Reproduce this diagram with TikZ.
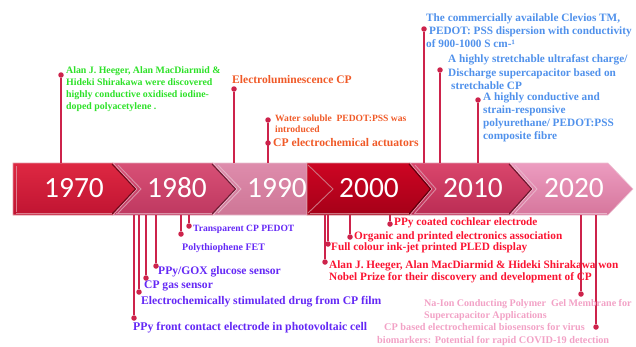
\documentclass[tikz,border=0pt]{standalone}
\usepackage{fontspec}
\setmainfont{Liberation Serif}
\newfontfamily\yearfont{Carlito}
\definecolor{lc}{RGB}{205,35,75}
\definecolor{cgreen}{RGB}{45,225,40}
\definecolor{corange}{RGB}{240,90,40}
\definecolor{cblue}{RGB}{80,145,235}
\definecolor{cviolet}{RGB}{100,40,245}
\definecolor{cred}{RGB}{250,20,50}
\definecolor{cpink}{RGB}{242,162,198}
\definecolor{s1t}{RGB}{222,40,66}\definecolor{s1b}{RGB}{192,20,50}
\definecolor{s2t}{RGB}{216,80,118}\definecolor{s2b}{RGB}{190,56,96}
\definecolor{s3t}{RGB}{222,140,172}\definecolor{s3b}{RGB}{206,118,150}
\definecolor{s4t}{RGB}{205,5,35}\definecolor{s4b}{RGB}{165,0,24}
\definecolor{s5t}{RGB}{218,70,108}\definecolor{s5b}{RGB}{186,44,84}
\definecolor{s6t}{RGB}{236,156,192}\definecolor{s6b}{RGB}{214,118,156}
\begin{document}
\begin{tikzpicture}[x=1bp,y=-1bp,
  conn/.style={draw=lc, line width=1.5bp},
  dot/.style={circle, fill=lc, inner sep=0, minimum size=5.5bp},
  lab/.style={inner sep=0, anchor=west, align=left},
  seg/.style={draw=white!55!#1, line width=0.6bp},
  shadow/.style={draw=black!45!#1, line width=1bp},
  bevel/.style={draw=white!45!#1, line width=0.9bp},
  yr/.style={text=white, font=\yearfont\fontsize{29.5}{31}\selectfont, inner sep=0}]
\useasboundingbox (0,0) rectangle (636,346);
% band
\shade[seg=s1b, top color=s1t, bottom color=s1b] (13,163) -- (113,163) -- (137,189) -- (113,215) -- (13,215) -- cycle;
\shade[seg=s2b, top color=s2t, bottom color=s2b] (113,163) -- (213,163) -- (237,189) -- (213,215) -- (113,215) -- (137,189) -- cycle;
\shade[seg=s3b, top color=s3t, bottom color=s3b] (213,163) -- (307,163) -- (307,215) -- (213,215) -- (237,189) -- cycle;
\shade[seg=s4b, top color=s4t, bottom color=s4b] (307,163) -- (410,163) -- (432,189) -- (410,215) -- (307,215) -- cycle;
\shade[seg=s5b, top color=s5t, bottom color=s5b] (410,163) -- (510,163) -- (533,189) -- (510,215) -- (410,215) -- (432,189) -- cycle;
\shade[seg=s6b, top color=s6t, bottom color=s6b] (510,163) -- (608,163) -- (633,189) -- (608,215) -- (510,215) -- (533,189) -- cycle;
% bevels and shadows
\draw[bevel=s1b] (16,166) -- (16,212);
\draw[bevel=s2b] (118,165) -- (141,189) -- (118,213);
\draw[bevel=s3b] (218,165) -- (241,189) -- (218,213);
\draw[bevel=s4b] (308,165) -- (333,189) -- (308,213);
\draw[bevel=s5b] (415,165) -- (436,189) -- (415,213);
\draw[bevel=s6b] (515,165) -- (537,189) -- (515,213);
\draw[shadow=s1b] (112,164) -- (135.5,189) -- (112,214);
\draw[shadow=s2b] (212,164) -- (235.5,189) -- (212,214);
\draw[shadow=s4b] (409,164) -- (430.5,189) -- (409,214);
\draw[shadow=s5b] (509,164) -- (531.5,189) -- (509,214);
\draw[bevel=s1b] (16,213) -- (112,213);
\draw[bevel=s2b] (116,213) -- (212,213);
\draw[bevel=s4b] (310,213) -- (409,213);
\draw[bevel=s5b] (414,213) -- (509,213);
\draw[bevel=s6b] (514,213) -- (607,213);
\node[yr] (y1970) at (74,188) {1970};
\node[yr] (y1980) at (177,188) {1980};
\node[yr] (y1990) at (277,188) {1990};
\node[yr] (y2000) at (369,188) {2000};
\node[yr] (y2010) at (473,188) {2010};
\node[yr] (y2020) at (574,188) {2020};
% band anchor coordinates
\coordinate (bt1) at (61,163);
\coordinate (bt2) at (234,163);
\coordinate (bt3) at (268,163);
\coordinate (bt4) at (424,163);
\coordinate (bt5) at (440,163);
\coordinate (bt6) at (478,163);
\coordinate (bb1) at (134,215);
\coordinate (bb2) at (139,215);
\coordinate (bb3) at (146,215);
\coordinate (bb4) at (156,215);
\coordinate (bb5) at (181,215);
\coordinate (bb6) at (189,215);
\coordinate (bb7) at (325,215);
\coordinate (bb8) at (328,215);
\coordinate (bb9) at (350,215);
\coordinate (bb10) at (390,215);
\coordinate (bb11) at (581,215);
\coordinate (bb12) at (596,215);
% dots
\node[dot] (d1) at (61,75) {};
\node[dot] (d2) at (234,89) {};
\node[dot] (d3) at (268,120) {};
\node[dot] (d3b) at (268,143) {};
\node[dot] (d4) at (424,29) {};
\node[dot] (d5) at (440,70) {};
\node[dot] (d6) at (478,100) {};
\node[dot] (e1) at (134,318) {};
\node[dot] (e2) at (139,292) {};
\node[dot] (e3) at (146,278) {};
\node[dot] (e4) at (156,266) {};
\node[dot] (e5) at (181,234) {};
\node[dot] (e6) at (189,226) {};
\node[dot] (e7) at (325,262) {};
\node[dot] (e8) at (328,244) {};
\node[dot] (e9) at (350,237) {};
\node[dot] (e10) at (390,224) {};
\node[dot] (e11) at (581,294) {};
\node[dot] (e12) at (596,327) {};
% connectors
\draw[conn] (bt1) -- (d1);
\draw[conn] (bt2) -- (d2);
\draw[conn] (bt3) -- (d3);
\draw[conn] (bt4) -- (d4);
\draw[conn] (bt5) -- (d5);
\draw[conn] (bt6) -- (d6);
\draw[conn] (bb1) -- (e1);
\draw[conn] (bb2) -- (e2);
\draw[conn] (bb3) -- (e3);
\draw[conn] (bb4) -- (e4);
\draw[conn] (bb5) -- (e5);
\draw[conn] (bb6) -- (e6);
\draw[conn] (bb7) -- (e7);
\draw[conn] (bb8) -- (e8);
\draw[conn] (bb9) -- (e9);
\draw[conn] (bb10) -- (e10);
\draw[conn] (bb11) -- (e11);
\draw[conn] (bb12) -- (e12);
% top labels
\node[lab, text=cgreen, font=\bfseries\fontsize{9.9}{12}\selectfont] (t1) at (66,89)
  {Alan J. Heeger, Alan MacDiarmid \&\\Hideki Shirakawa were discovered\\highly conductive oxidised iodine-\\doped polyacetylene .};
\node[lab, text=corange, font=\bfseries\fontsize{11.6}{13}\selectfont] (t2) at (232,80) {Electroluminescence CP};
\node[lab, text=corange, font=\bfseries\fontsize{9.6}{11}\selectfont] (t3) at (275,123.5) {Water soluble\ \ PEDOT:PSS was\\introduced};
\node[lab, text=corange, font=\bfseries\fontsize{11.7}{13}\selectfont] (t3b) at (273,143) {CP electrochemical actuators};
\node[lab, text=cblue, font=\bfseries\fontsize{11.3}{13}\selectfont] (t4) at (426,31)
  {The commercially available Clevios TM,\\\hspace*{3bp}PEDOT: PSS dispersion with conductivity\\of 900-1000 S cm-¹};
\node[lab, text=cblue, font=\bfseries\fontsize{11.3}{13.5}\selectfont] (t5) at (448,72.5)
  {A highly stretchable ultrafast charge/\\Discharge supercapacitor based on\\\hspace*{3bp}stretchable CP};
\node[lab, text=cblue, font=\bfseries\fontsize{11.3}{13}\selectfont] (t6) at (483,117.5)
  {A highly conductive and\\strain-responsive\\polyurethane/ PEDOT:PSS\\composite fibre};
% bottom labels
\node[lab, text=cviolet, font=\bfseries\fontsize{11.8}{13}\selectfont] (u1) at (133,328) {PPy front contact electrode in photovoltaic cell};
\node[lab, text=cviolet, font=\bfseries\fontsize{11.7}{13}\selectfont] (u2) at (141,302) {Electrochemically stimulated drug from CP film};
\node[lab, text=cviolet, font=\bfseries\fontsize{11.6}{13}\selectfont] (u3) at (144,286) {CP gas sensor};
\node[lab, text=cviolet, font=\bfseries\fontsize{11.6}{13}\selectfont] (u4) at (158,272) {PPy/GOX glucose sensor};
\node[lab, text=cviolet, font=\bfseries\fontsize{10}{12}\selectfont] (u5) at (182,248) {Polythiophene FET};
\node[lab, text=cviolet, font=\bfseries\fontsize{9.6}{11}\selectfont] (u6) at (193,229) {Transparent CP PEDOT};
\node[lab, text=cred, font=\bfseries\fontsize{11.3}{12}\selectfont] (u7) at (329,272)
  {Alan J. Heeger, Alan MacDiarmid \& Hideki Shirakawa won\\Nobel Prize for their discovery and development of CP};
\node[lab, text=cred, font=\bfseries\fontsize{11.3}{13}\selectfont] (u8) at (331,248) {Full colour ink-jet printed PLED display};
\node[lab, text=cred, font=\bfseries\fontsize{11.3}{13}\selectfont] (u9) at (354,237) {Organic and printed electronics association};
\node[lab, text=cred, font=\bfseries\fontsize{11.3}{13}\selectfont] (u10) at (394,223) {PPy coated cochlear electrode};
\node[lab, text=cpink, font=\bfseries\fontsize{10.1}{12}\selectfont] (u11) at (424,310)
  {Na-Ion Conducting Polymer\ \ Gel Membrane for\\Supercapacitor Applications};
\node[lab, text=cpink, font=\bfseries\fontsize{10.3}{13}\selectfont] (u12) at (377,334.5)
  {\hspace*{7bp}CP based electrochemical biosensors for virus\\biomarkers: Potential for rapid COVID-19 detection};
\end{tikzpicture}
\end{document}
